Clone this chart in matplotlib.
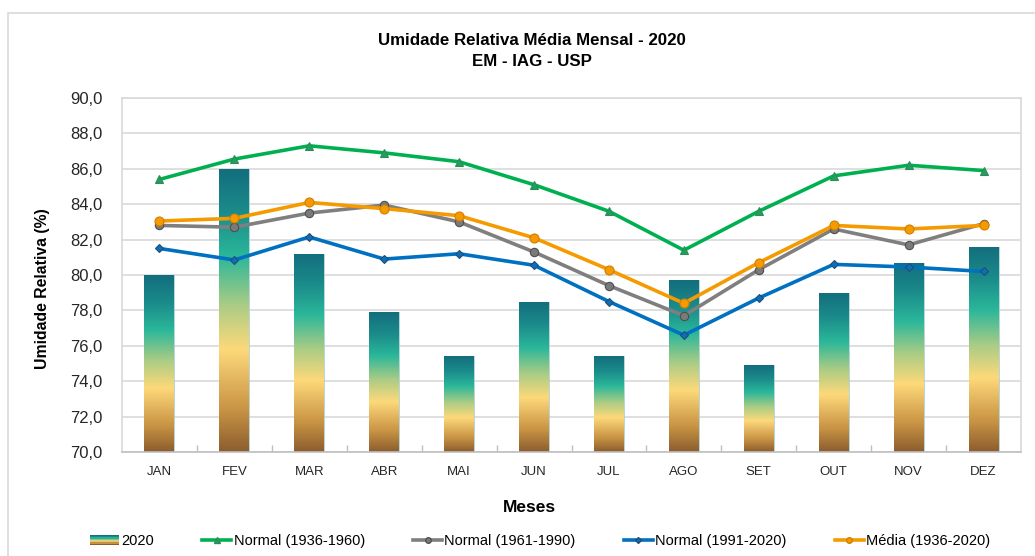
import numpy as np
import matplotlib.pyplot as plt
from matplotlib.colors import LinearSegmentedColormap
from matplotlib.patches import Rectangle
from matplotlib.legend_handler import HandlerBase
from matplotlib.lines import Line2D

plt.rcParams['font.family'] = ['Liberation Sans', 'DejaVu Sans']

# Dados
meses = ['JAN', 'FEV', 'MAR', 'ABR', 'MAI', 'JUN', 'JUL', 'AGO', 'SET', 'OUT', 'NOV', 'DEZ']
umid_2020 = [80.0, 86.0, 81.2, 77.9, 75.4, 78.5, 75.4, 79.7, 74.9, 79.0, 80.7, 81.6]
normal_1936_1960 = [85.4, 86.55, 87.3, 86.9, 86.4, 85.1, 83.6, 81.4, 83.6, 85.6, 86.2, 85.9]
normal_1961_1990 = [82.8, 82.7, 83.5, 83.95, 83.0, 81.3, 79.4, 77.7, 80.3, 82.6, 81.7, 82.9]
normal_1991_2020 = [81.5, 80.85, 82.15, 80.9, 81.2, 80.55, 78.5, 76.6, 78.7, 80.6, 80.45, 80.2]
media_1936_2020 = [83.05, 83.2, 84.1, 83.75, 83.35, 82.1, 80.3, 78.4, 80.7, 82.8, 82.6, 82.8]

grad_cores = ['#8c5d2e', '#c99444', '#e2b45e', '#fdd97a', '#a9cc85', '#2bb79a', '#1a8a8a', '#136e7e']
cmap_barra = LinearSegmentedColormap.from_list(
    'umid', list(zip([0.0, 0.15, 0.25, 0.36, 0.52, 0.69, 0.85, 1.0], grad_cores)))

W, H = 1035, 556
fig = plt.figure(figsize=(W / 100, H / 100), dpi=100)
ax = fig.add_axes([122 / W, 1 - 452 / H, (1021 - 122) / W, (452 - 98) / H])

x = np.arange(len(meses))

# barras 2020 com gradiente
barras = ax.bar(x, umid_2020, width=0.4, color='none', edgecolor='#a8cfd3', linewidth=0.6, zorder=2)
grad = np.linspace(0, 1, 256).reshape(-1, 1)
for b in barras:
    x0, w, h = b.get_x(), b.get_width(), b.get_height()
    im = ax.imshow(grad, extent=[x0, x0 + w, 70, h], origin='lower', cmap=cmap_barra,
                   aspect='auto', zorder=2, interpolation='bilinear')
    im.set_clip_path(b)

ax.plot(x, normal_1936_1960, color='#00b050', lw=2.6, marker='^', ms=6,
        mfc='#1fa060', mec='#2e8b57', mew=0.8, zorder=4)
ax.plot(x, normal_1961_1990, color='#7f7f7f', lw=2.6, marker='o', ms=6,
        mfc='#7a7a7a', mec='#505050', mew=0.8, zorder=4)
ax.plot(x, normal_1991_2020, color='#0070c0', lw=2.6, marker='D', ms=4.5,
        mfc='#0d6fb8', mec='#1f4e79', mew=0.8, zorder=4)
ax.plot(x, media_1936_2020, color='#f59a00', lw=2.6, marker='o', ms=6.5,
        mfc='#f59a00', mec='#d08000', mew=0.8, zorder=5)

ax.set_xlim(-0.5, len(meses) - 0.5)
ax.set_ylim(70, 90)
ax.set_yticks(np.arange(70, 90.1, 2))
ax.set_yticklabels([f'{v:.1f}'.replace('.', ',') for v in np.arange(70, 90.1, 2)], fontsize=12, color='#262626')
ax.set_xticks(x)
ax.set_xticklabels(meses, fontsize=9.5, color='#262626')
ax.set_xticks(np.arange(0.5, len(meses) - 1, 1), minor=True)
ax.tick_params(axis='x', which='major', length=0, pad=10)
ax.tick_params(axis='x', which='minor', length=5, direction='in', color='#bfbfbf', width=1)
ax.tick_params(axis='y', length=0, pad=14)
ax.grid(axis='y', color='#d9d9d9', lw=1.2, zorder=0)
ax.set_axisbelow(True)
for s in ['left', 'top', 'right']:
    ax.spines[s].set_color('#d9d9d9')
    ax.spines[s].set_linewidth(1.2)
ax.spines['bottom'].set_color('#bfbfbf')
ax.spines['bottom'].set_linewidth(1.2)

fig.text(532 / W, 1 - 51 / H, 'Umidade Relativa Média Mensal - 2020\nEM - IAG - USP',
         ha='center', va='center', fontsize=12.2, fontweight='bold', linespacing=1.5)
fig.text(43 / W, 1 - 289 / H, 'Umidade Relativa (%)', rotation=90, ha='center', va='center',
         fontsize=11.3, fontweight='bold')
fig.text(529 / W, 1 - 507 / H, 'Meses', ha='center', va='center', fontsize=12.5, fontweight='bold')

# moldura externa
fig.patches.append(Rectangle((8 / W, -0.1), 1.0, 1 - 13 / H + 0.1, transform=fig.transFigure,
                             fill=False, edgecolor='#d9d9d9', lw=1.2))


class HandlerGrad(HandlerBase):
    def create_artists(self, legend, orig, xd, yd, width, height, fontsize, trans):
        n = 8
        arts = []
        for i in range(n):
            r = Rectangle((xd, yd + i * height / n), width, height / n,
                          facecolor=cmap_barra(i / (n - 1)), edgecolor='none', transform=trans)
            arts.append(r)
        return arts


h_barra = Rectangle((0, 0), 1, 1)
handles = [
    h_barra,
    Line2D([], [], color='#00b050', lw=2.6, marker='^', ms=4, mfc='#1fa060', mec='#2e8b57'),
    Line2D([], [], color='#7f7f7f', lw=2.6, marker='o', ms=4, mfc='#7a7a7a', mec='#505050'),
    Line2D([], [], color='#0070c0', lw=2.6, marker='D', ms=3, mfc='#0d6fb8', mec='#1f4e79'),
    Line2D([], [], color='#f59a00', lw=2.6, marker='o', ms=4, mfc='#f59a00', mec='#d08000'),
]
labels = ['2020', 'Normal (1936-1960)', 'Normal (1961-1990)', 'Normal (1991-2020)', 'Média (1936-2020)']
fig.legend(handles, labels, loc='center', bbox_to_anchor=(540 / W, 1 - 541 / H), ncol=5,
           frameon=False, fontsize=10.5, handlelength=2.0, handletextpad=0.15, columnspacing=3.3,
           handler_map={Rectangle: HandlerGrad()})

fig.savefig('out.png', dpi=100)
